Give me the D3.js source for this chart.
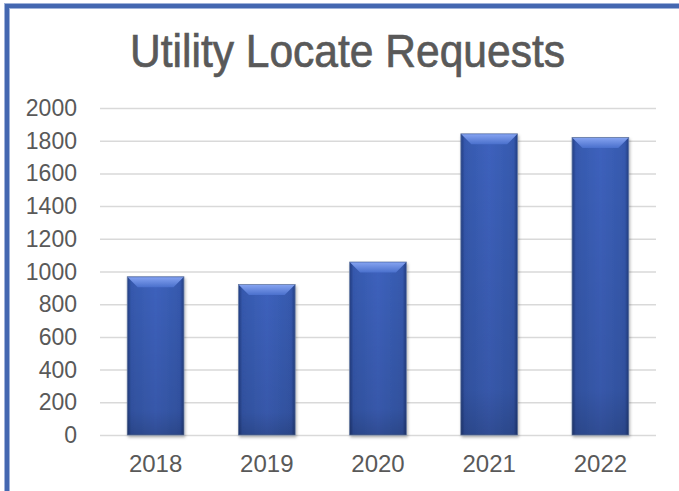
<!DOCTYPE html>
<html lang="en">
<head>
    <meta charset="UTF-8">
    <title>Utility Locate Requests</title>
    <script src="https://d3js.org/d3.v7.min.js"></script>
    <style>
        * { margin: 0; padding: 0; box-sizing: border-box; }
        body { background: #fff; width: 679px; height: 491px; overflow: hidden; }
        svg text { font-family: 'Liberation Sans', Arial, sans-serif; fill: #595959; }
        .grid line { stroke: #d9d9d9; stroke-width: 1.5; }
        .grid path { display: none; }
    </style>
</head>
<body>
    <div id="chart"></div>
    <script>
        // chart data
        const years = ["2018", "2019", "2020", "2021", "2022"];
        const requests = [968, 920, 1058, 1842, 1820];
        const yTicks = [0, 200, 400, 600, 800, 1000, 1200, 1400, 1600, 1800, 2000];

        const width = 679, height = 491;
        const margin = { top: 108, right: 23, bottom: 56, left: 100 };

        const svg = d3.select("#chart").append("svg")
            .attr("width", width)
            .attr("height", height);

        const defs = svg.append("defs");

        // body gradient: dark sides, brighter middle
        const body = defs.append("linearGradient").attr("id", "barBody")
            .attr("x1", 0).attr("x2", 1).attr("y1", 0).attr("y2", 0);
        body.append("stop").attr("offset", "0%").attr("stop-color", "#223d82");
        body.append("stop").attr("offset", "7%").attr("stop-color", "#3659ae");
        body.append("stop").attr("offset", "50%").attr("stop-color", "#3d62bd");
        body.append("stop").attr("offset", "93%").attr("stop-color", "#3659ae");
        body.append("stop").attr("offset", "100%").attr("stop-color", "#223d82");

        // vertical darkening toward the base
        const shade = defs.append("linearGradient").attr("id", "barShade")
            .attr("x1", 0).attr("x2", 0).attr("y1", 0).attr("y2", 1);
        shade.append("stop").attr("offset", "0%").attr("stop-color", "#000").attr("stop-opacity", 0);
        shade.append("stop").attr("offset", "85%").attr("stop-color", "#000").attr("stop-opacity", 0.1);
        shade.append("stop").attr("offset", "100%").attr("stop-color", "#000").attr("stop-opacity", 0.22);

        const bevel = defs.append("linearGradient").attr("id", "barBevel")
            .attr("x1", 0).attr("x2", 0).attr("y1", 0).attr("y2", 1);
        bevel.append("stop").attr("offset", "0%").attr("stop-color", "#84a2f0");
        bevel.append("stop").attr("offset", "100%").attr("stop-color", "#4a70cc");

        const shadow = defs.append("filter").attr("id", "shadow")
            .attr("x", "-20%").attr("y", "-5%").attr("width", "140%").attr("height", "115%");
        shadow.append("feDropShadow").attr("dx", 1).attr("dy", 2).attr("stdDeviation", 1.5)
            .attr("flood-color", "#000").attr("flood-opacity", 0.3);

        // frame
        svg.append("rect")
            .attr("x", 7).attr("y", 6)
            .attr("width", width + 10).attr("height", height + 10)
            .attr("fill", "none")
            .attr("stroke", "#9fb2d9").attr("stroke-width", 6);
        svg.append("rect")
            .attr("x", 7).attr("y", 6)
            .attr("width", width + 10).attr("height", height + 10)
            .attr("fill", "none")
            .attr("stroke", "#4467b0").attr("stroke-width", 4);

        svg.append("text")
            .attr("x", 347.5).attr("y", 67)
            .attr("text-anchor", "middle")
            .attr("textLength", 435)
            .attr("lengthAdjust", "spacingAndGlyphs")
            .style("font-size", "47px")
            .style("stroke", "#595959")
            .style("stroke-width", 0.7)
            .text("Utility Locate Requests");

        const x = d3.scaleBand()
            .domain(years)
            .range([margin.left, width - margin.right])
            .paddingInner(0.49)
            .paddingOuter(0.245);

        const y = d3.scaleLinear()
            .domain([0, 2000])
            .range([height - margin.bottom, margin.top]);

        svg.append("g")
            .attr("class", "grid")
            .attr("transform", `translate(${margin.left},0)`)
            .call(d3.axisRight(y).tickValues(yTicks).tickSize(width - margin.left - margin.right).tickFormat(""));

        svg.append("g")
            .selectAll("text")
            .data(yTicks)
            .join("text")
            .attr("x", 77)
            .attr("y", d => y(d) + 8)
            .attr("text-anchor", "end")
            .style("font-size", "23px")
            .text(d => d);

        svg.append("g")
            .selectAll("text")
            .data(years)
            .join("text")
            .attr("x", d => x(d) + x.bandwidth() / 2)
            .attr("y", 472)
            .attr("text-anchor", "middle")
            .style("font-size", "24px")
            .text(d => d);

        const bars = svg.append("g")
            .selectAll("g")
            .data(years.map((yr, i) => ({ yr, v: requests[i] })))
            .join("g");

        bars.append("rect")
            .attr("x", d => x(d.yr))
            .attr("y", d => y(d.v))
            .attr("width", x.bandwidth())
            .attr("height", d => y(0) - y(d.v))
            .attr("fill", "url(#barBody)")
            .attr("stroke", "#6b7fa8")
            .attr("stroke-width", 0.8)
            .attr("filter", "url(#shadow)");

        bars.append("rect")
            .attr("x", d => x(d.yr))
            .attr("y", d => y(d.v))
            .attr("width", x.bandwidth())
            .attr("height", d => y(0) - y(d.v))
            .attr("fill", "url(#barShade)");

        // lighter top bevel
        const b = 10;
        bars.append("path")
            .attr("d", d => {
                const x0 = x(d.yr) + 0.5, x1 = x(d.yr) + x.bandwidth() - 0.5, t = y(d.v) + 0.5;
                return `M${x0},${t}L${x1},${t}L${x1 - b},${t + b}L${x0 + b},${t + b}Z`;
            })
            .attr("fill", "url(#barBevel)");
    </script>
</body>
</html>
